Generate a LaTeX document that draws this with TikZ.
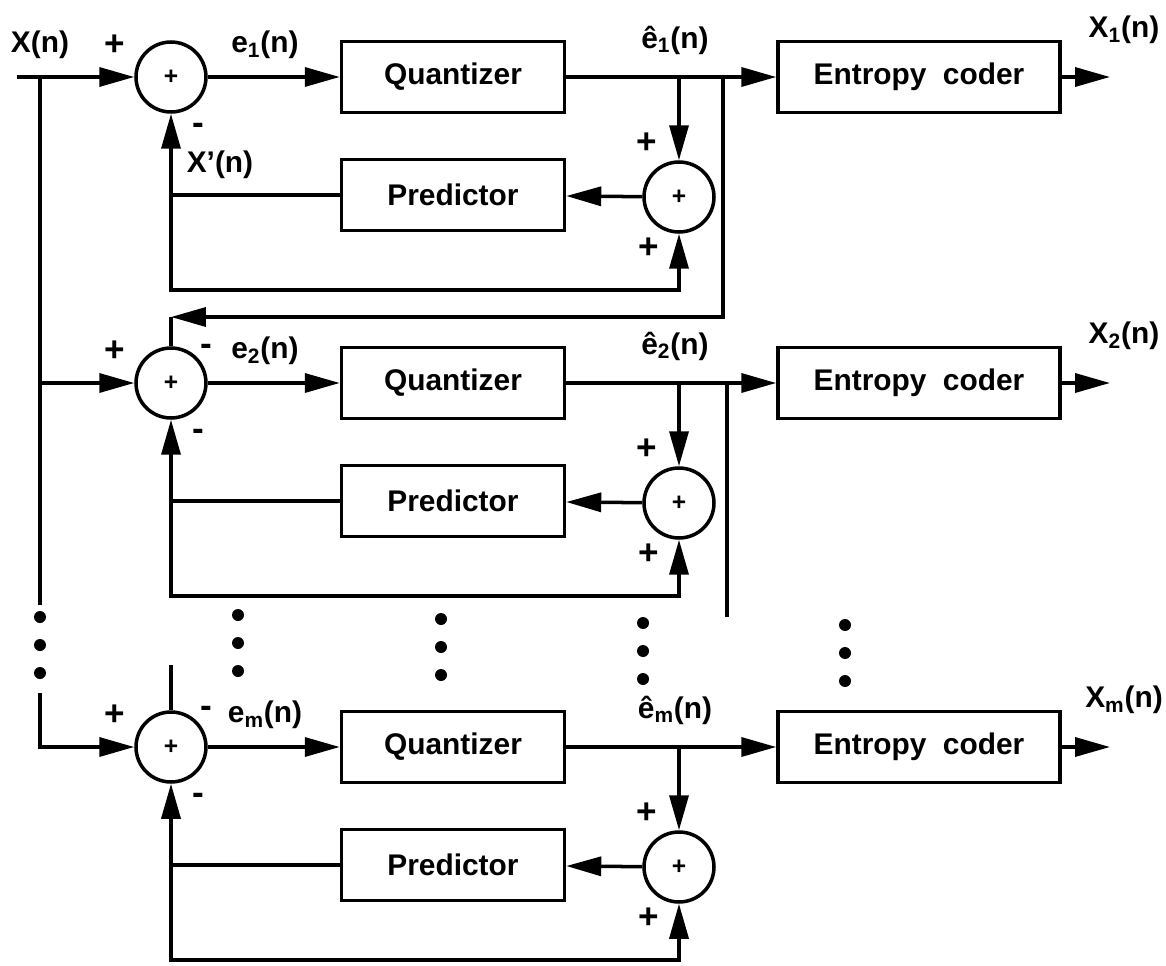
\documentclass[tikz,border=0pt]{standalone}
\usepackage{fontspec}
\setmainfont{Liberation Sans}
\usetikzlibrary{arrows.meta}

\tikzset{
  blk/.style={draw,line width=2pt,minimum height=1.42cm,inner sep=0pt,font=\fontsize{17}{20}\selectfont\bfseries},
  sumnode/.style={draw,circle,line width=2pt,minimum size=1.4cm,inner sep=0pt,font=\fontsize{14}{16}\selectfont\bfseries},
  sgn/.style={font=\fontsize{20}{22}\selectfont\bfseries,inner sep=0pt},
  lbl/.style={font=\fontsize{17}{20}\selectfont\bfseries,inner sep=0pt},
}

\begin{document}
\begin{tikzpicture}[x=0.02cm,y=-0.02cm,line width=2pt,>={Triangle[length=0.7cm,width=0.38cm]}]
  \useasboundingbox (0,0) rectangle (1166,966);
  % one DPCM branch per row
  \foreach \r/\s/\y in {1/1/77,2/2/383,3/m/747} {
    \node[sumnode] (sum\r) at (171,\y) {+};
    \node[blk,minimum width=4.46cm] (quant\r) at (453,\y) {Quantizer};
    \node[blk,minimum width=4.46cm] (pred\r) at (453,\y+118) {Predictor};
    \node[sumnode] (add\r) at (679,\y+120) {+};
    \node[blk,minimum width=5.64cm] (coder\r) at (919,\y) {Entropy\hspace{0.55em}coder};
    \node[lbl] (err\r) at (265,\y-32) {e\textsubscript{\s}(n)};
    \node[lbl] (qerr\r) at (675,\y-37) {\^{e}\textsubscript{\s}(n)};
    \node[lbl] (xout\r) at (1124,\y-47) {X\textsubscript{\s}(n)};
    \node[sgn] (pin\r) at (115,\y-32) {+};
    \node[sgn] (mbot\r) at (198,\y+52) {-};
    \node[sgn] (ptop\r) at (647,\y+66) {+};
    \node[sgn] (pbot\r) at (649,\y+171) {+};
    \coordinate (out\r) at (1110,\y);
    \coordinate (low\r) at (171,\y+213);
    \draw[->] (sum\r) -- (quant\r);
    \draw[->] (quant\r) -- (coder\r);
    \draw[->] (add\r |- quant\r) -- (add\r);
    \draw[->] (add\r) -- (pred\r);
    \draw[->] (pred\r) -| (sum\r);
    \draw[->] (pred\r.west -| sum\r) -- (low\r) -| (add\r);
    \draw[->] (coder\r) -- (out\r);
  }
  % input bus
  \coordinate (in) at (17,77);
  \coordinate (tap1) at (40,77);
  \coordinate (tap2) at (40,383);
  \coordinate (bus1) at (40,605);
  \coordinate (bus2) at (40,693);
  \node[lbl] (xin) at (40,45) {X(n)};
  \draw[->] (in) -- (sum1);
  \draw (tap1) -- (bus1);
  \draw[->] (tap2) -- (sum2);
  \draw[->] (bus2) |- (sum3);
  \node[lbl] (xpred) at (220,165) {X'(n)};
  % feedback between rows
  \coordinate (fb1) at (723,77);
  \coordinate (fb2) at (171,317);
  \coordinate (fb3) at (727,383);
  \coordinate (fb4) at (727,617);
  \coordinate (fb5) at (171,665);
  \draw[->] (fb1) |- (fb2);
  \draw (fb2) -- (sum2);
  \draw (fb3) -- (fb4);
  \draw (fb5) -- (sum3);
  \node[sgn] (mtop2) at (206,350) {-};
  \node[sgn] (mtop3) at (206,712) {-};
  % vertical dots
  \foreach \dx/\dy in {40/617,238/615,441/619,643/623,845/625}
    \foreach \k in {0,1,2}
      \fill (\dx,{\dy+28*\k}) circle[radius=0.12cm];
\end{tikzpicture}
\end{document}
